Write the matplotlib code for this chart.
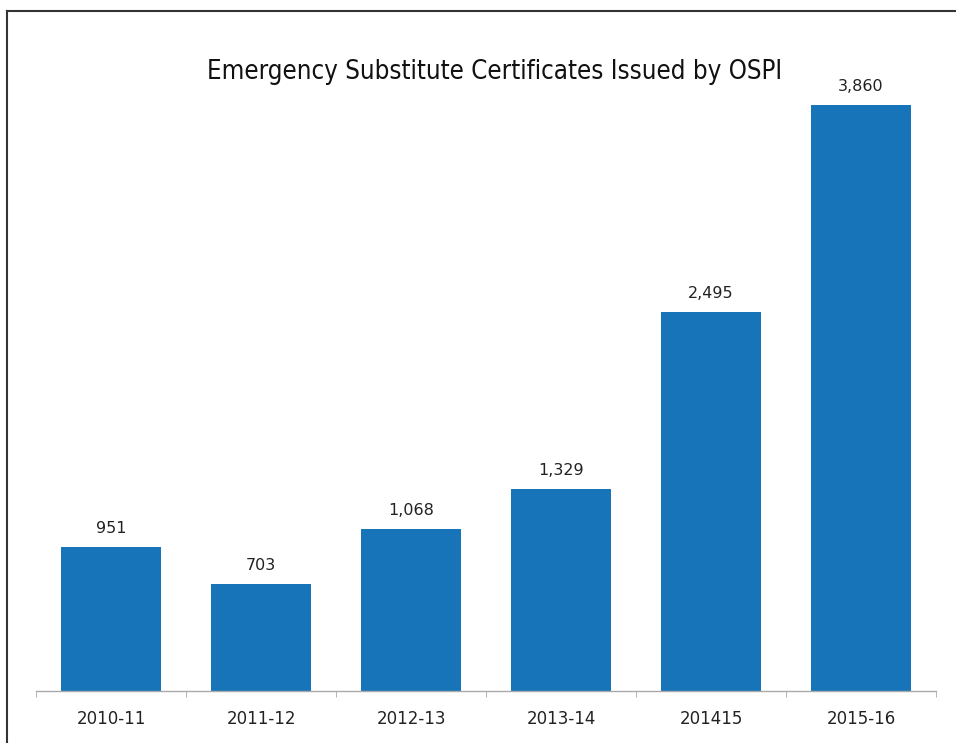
import matplotlib
matplotlib.use("Agg")
import matplotlib.pyplot as plt
from matplotlib.lines import Line2D

categories = ["2010-11", "2011-12", "2012-13", "2013-14", "201415", "2015-16"]
values = [951, 703, 1068, 1329, 2495, 3860]
value_labels = ["951", "703", "1,068", "1,329", "2,495", "3,860"]
title = "Emergency Substitute Certificates Issued by OSPI"

W, H = 956, 743
fig = plt.figure(figsize=(W / 100, H / 100), dpi=100)
fig.patch.set_facecolor("white")

ax = fig.add_axes([36 / W, (H - 691) / H, 900 / W, 651 / H])
x = list(range(len(categories)))
ax.bar(x, values, width=0.667, color="#1874b9", zorder=2)
ax.set_xlim(-0.5, len(categories) - 0.5)
ax.set_ylim(0, 4288)

for xi, v, lab in zip(x, values, value_labels):
    ax.annotate(lab, (xi, v), xytext=(0, 8), textcoords="offset points",
                ha="center", va="bottom", fontsize=11.5, color="#222222",
                family="DejaVu Sans")

for s in ["top", "right", "left"]:
    ax.spines[s].set_visible(False)
ax.spines["bottom"].set_color("#aaaaaa")
ax.spines["bottom"].set_linewidth(1.0)
ax.set_yticks([])
ax.set_xticks(x)
ax.set_xticklabels(categories, fontsize=12, color="#222222")
ax.tick_params(axis="x", length=0, pad=14)
ax.set_xticks([i - 0.5 for i in range(len(categories) + 1)], minor=True)
ax.tick_params(axis="x", which="minor", length=4, color="#aaaaaa", direction="out")

fig.text(495 / W, 1 - 72 / H, title, ha="center", va="center",
         fontsize=18.5, family="DejaVu Sans", stretch="condensed",
         weight="normal", color="#111111")

fig.add_artist(Line2D([7 / W, 7 / W], [0, 1 - 11 / H], transform=fig.transFigure,
                      color="#333333", linewidth=1.5))
fig.add_artist(Line2D([7 / W, 1], [1 - 11 / H, 1 - 11 / H], transform=fig.transFigure,
                      color="#333333", linewidth=1.5))

fig.savefig("out.png", dpi=100)
